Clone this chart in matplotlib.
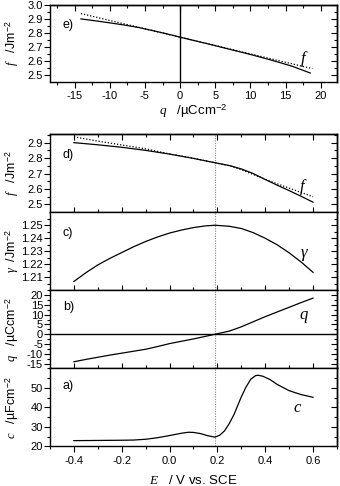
import numpy as np
import matplotlib
matplotlib.use('Agg')
import matplotlib.pyplot as plt
from matplotlib.ticker import MultipleLocator, FixedLocator

plt.rcParams['font.family'] = ['Liberation Sans', 'DejaVu Sans']
plt.rcParams['mathtext.fontset'] = 'custom'
plt.rcParams['mathtext.rm'] = 'Liberation Sans'
plt.rcParams['mathtext.it'] = 'Liberation Serif:italic'
plt.rcParams['mathtext.bf'] = 'Liberation Sans:bold'
plt.rcParams['axes.unicode_minus'] = False

# panel e: f vs q
q_e = [-14.1, -12, -10, -8, -6, -4, -2, 0, 2, 4, 6, 8, 10, 12, 14, 16, 18.5]
f_e = [2.900, 2.886, 2.872, 2.857, 2.840, 2.818, 2.795, 2.770, 2.746, 2.722,
       2.697, 2.672, 2.647, 2.620, 2.592, 2.562, 2.515]
q_tan = [-14.1, 18.8]
f_tan = [2.938, 2.546]

# panel d: f vs E
E_d = [-0.4, -0.3, -0.2, -0.1, 0.0, 0.1, 0.19, 0.25, 0.3, 0.35, 0.4, 0.45, 0.5, 0.55, 0.6]
f_d = [2.900, 2.886, 2.870, 2.850, 2.826, 2.798, 2.770, 2.752, 2.730, 2.700,
       2.662, 2.625, 2.590, 2.553, 2.515]
f_d_dot = [2.938, 2.910, 2.885, 2.860, 2.827, 2.799, 2.770, 2.751, 2.725, 2.694,
           2.663, 2.634, 2.606, 2.578, 2.550]

# panel c: gamma vs E
E_c = [-0.4, -0.35, -0.3, -0.25, -0.2, -0.15, -0.1, -0.05, 0.0, 0.05, 0.1, 0.15,
       0.19, 0.25, 0.3, 0.35, 0.4, 0.45, 0.5, 0.55, 0.6]
gam = [1.2068, 1.2135, 1.2195, 1.2245, 1.2290, 1.2335, 1.2375, 1.2410, 1.2440,
       1.2463, 1.2482, 1.2495, 1.2500, 1.2492, 1.2475, 1.2443, 1.2400, 1.2350,
       1.2288, 1.2218, 1.2138]

# panel b: q vs E
E_b = [-0.4, -0.35, -0.3, -0.25, -0.2, -0.15, -0.1, -0.05, 0.0, 0.05, 0.1, 0.15,
       0.19, 0.25, 0.3, 0.35, 0.4, 0.45, 0.5, 0.55, 0.6]
q_b = [-14.1, -12.9, -11.8, -10.7, -9.7, -8.7, -7.7, -6.3, -4.8, -3.6, -2.4, -1.1,
       0.0, 1.6, 3.8, 6.4, 9.0, 11.4, 13.8, 16.2, 18.5]

# panel a: c vs E
E_a = [-0.4, -0.3, -0.2, -0.15, -0.1, -0.05, 0.0, 0.05, 0.08, 0.1, 0.13, 0.16,
       0.19, 0.21, 0.23, 0.25, 0.27, 0.28, 0.3, 0.32, 0.34, 0.36, 0.37, 0.39,
       0.42, 0.45, 0.5, 0.55, 0.6]
c_a = [23.0, 23.1, 23.2, 23.3, 23.7, 24.5, 25.6, 26.8, 27.3, 27.2, 26.6, 25.5,
       24.8, 25.8, 28.0, 31.8, 36.5, 39.5, 45.4, 50.5, 54.5, 56.3, 56.5, 56.0,
       54.3, 51.8, 48.6, 46.6, 45.2]

E_pzc = 0.19

fig = plt.figure(figsize=(3.4, 4.86), dpi=100)
L, R = 0.147, 0.991
ax_e = fig.add_axes([L, 0.831, R - L, 0.159])
h = (0.724 - 0.0813) / 4
ax_d = fig.add_axes([L, 0.0813 + 3 * h, R - L, h])
ax_c = fig.add_axes([L, 0.0813 + 2 * h, R - L, h])
ax_b = fig.add_axes([L, 0.0813 + h, R - L, h])
ax_a = fig.add_axes([L, 0.0813, R - L, h])

lw = 0.9
tfs = 8
lfs = 9
pfs = 9
ylab_x = -0.1

def style(ax, bottom_dir='out', top=True, bottom_labels=True):
    for s in ax.spines.values():
        s.set_linewidth(1.0)
    ax.tick_params(axis='y', which='major', direction='out', length=4, width=0.8,
                   labelsize=tfs, pad=1.0)
    ax.tick_params(axis='y', which='minor', direction='out', length=2, width=0.8)
    ax.tick_params(axis='x', which='major', direction=bottom_dir, length=4 if bottom_dir == 'out' else 7,
                   width=0.8, labelsize=tfs, top=False, labelbottom=bottom_labels, pad=2.5)
    ax.tick_params(axis='x', which='minor', direction=bottom_dir, length=2 if bottom_dir == 'out' else 4,
                   width=0.8, top=False)
    # right ticks point inward
    ry = ax.secondary_yaxis('right')
    ry.set_yticks(ax.get_yticks(), labels=[])
    ax.tick_params(axis='y', which='both', right=False)
    ry.tick_params(axis='y', which='major', direction='in', length=4, width=0.8)
    ry.spines['right'].set_linewidth(1.0)
    ry.yaxis.set_minor_locator(FixedLocator(ax.yaxis.get_minorticklocs()))
    ry.tick_params(axis='y', which='minor', direction='in', length=2, width=0.8)
    if top:
        tx = ax.secondary_xaxis('top')
        tx.set_xticks(ax.get_xticks(), labels=[])
        tx.xaxis.set_minor_locator(FixedLocator(ax.xaxis.get_minorticklocs()))
        tx.tick_params(axis='x', which='major', direction='in', length=4, width=0.8)
        tx.tick_params(axis='x', which='minor', direction='in', length=2, width=0.8)
        tx.spines['top'].set_linewidth(1.0)

# ---- panel e
ax_e.plot(q_e, f_e, color='black', lw=lw)
ax_e.plot(q_tan, f_tan, color='black', lw=0.9, ls=(0, (1, 1.5)))
ax_e.axvline(0, color='black', lw=1.0)
ax_e.set_xlim(-18.5, 22.3)
ax_e.set_ylim(2.45, 3.0)
ax_e.xaxis.set_major_locator(MultipleLocator(5))
ax_e.xaxis.set_minor_locator(MultipleLocator(2.5))
ax_e.yaxis.set_major_locator(FixedLocator([2.5, 2.6, 2.7, 2.8, 2.9, 3.0]))
ax_e.yaxis.set_minor_locator(FixedLocator([2.55, 2.65, 2.75, 2.85, 2.95]))
ax_e.set_yticklabels(['2.5', '2.6', '2.7', '2.8', '2.9', '3.0'])
ax_e.set_xlabel(r'$q$   /µCcm$^{-2}$', fontsize=9.5, labelpad=1)
ax_e.set_ylabel(r'$f$   /Jm$^{-2}$', fontsize=lfs)
ax_e.yaxis.set_label_coords(ylab_x, 0.5)
ax_e.text(0.045, 0.74, 'e)', transform=ax_e.transAxes, fontsize=pfs, va='center')
ax_e.text(17.0, 2.585, r'$f$', fontsize=12)
style(ax_e)

# ---- panels vs E
for ax in (ax_d, ax_c, ax_b, ax_a):
    ax.set_xlim(-0.5, 0.7)
    ax.xaxis.set_major_locator(MultipleLocator(0.2))
    ax.xaxis.set_minor_locator(MultipleLocator(0.1))
    ax.axvline(E_pzc, color='#888888', lw=0.8, ls=(0, (1, 1.2)))

ax_d.plot(E_d, f_d, color='black', lw=lw)
ax_d.plot(E_d, f_d_dot, color='black', lw=0.9, ls=(0, (1, 1.5)))
ax_d.set_ylim(2.45, 2.955)
ax_d.yaxis.set_major_locator(FixedLocator([2.5, 2.6, 2.7, 2.8, 2.9]))
ax_d.yaxis.set_minor_locator(FixedLocator([2.55, 2.65, 2.75, 2.85, 2.95]))
ax_d.set_yticklabels(['2.5', '2.6', '2.7', '2.8', '2.9'])
ax_d.set_ylabel(r'$f$   /Jm$^{-2}$', fontsize=lfs)
ax_d.text(0.045, 0.73, 'd)', transform=ax_d.transAxes, fontsize=pfs, va='center')
ax_d.text(0.54, 2.585, r'$f$', fontsize=12)

ax_c.plot(E_c, gam, color='black', lw=lw)
ax_c.set_ylim(1.2, 1.26)
ax_c.yaxis.set_major_locator(FixedLocator([1.21, 1.22, 1.23, 1.24, 1.25]))
ax_c.yaxis.set_minor_locator(FixedLocator([1.205, 1.215, 1.225, 1.235, 1.245, 1.255]))
ax_c.set_yticklabels(['1.21', '1.22', '1.23', '1.24', '1.25'])
ax_c.set_ylabel(r'$\gamma$  /Jm$^{-2}$', fontsize=lfs)
ax_c.text(0.045, 0.73, 'c)', transform=ax_c.transAxes, fontsize=pfs, va='center')
ax_c.text(0.545, 1.2255, r'$\gamma$', fontsize=12)

ax_b.plot(E_b, q_b, color='black', lw=lw)
ax_b.axhline(0, color='black', lw=1.0)
ax_b.set_ylim(-17.5, 22.5)
ax_b.yaxis.set_major_locator(MultipleLocator(5))
ax_b.yaxis.set_minor_locator(FixedLocator(np.arange(-17.5, 22.6, 5)))
ax_b.set_ylabel(r'$q$   /µCcm$^{-2}$', fontsize=lfs)
ax_b.text(0.045, 0.78, 'b)', transform=ax_b.transAxes, fontsize=pfs, va='center')
ax_b.text(0.54, 8.0, r'$q$', fontsize=12)

ax_a.plot(E_a, c_a, color='black', lw=lw)
ax_a.set_ylim(20, 60)
ax_a.yaxis.set_major_locator(FixedLocator([20, 30, 40, 50]))
ax_a.yaxis.set_minor_locator(FixedLocator([25, 35, 45, 55]))
ax_a.set_yticklabels(['20', '30', '40', '50'])
ax_a.set_ylabel(r'$c$   /µFcm$^{-2}$', fontsize=lfs)
ax_a.set_xlabel(r'$E$   / V vs. SCE', fontsize=9.5, labelpad=6)
ax_a.text(0.045, 0.78, 'a)', transform=ax_a.transAxes, fontsize=pfs, va='center')
ax_a.text(0.515, 37.5, r'$c$', fontsize=12)

for ax in (ax_d, ax_c, ax_b, ax_a):
    ax.yaxis.set_label_coords(ylab_x, 0.5)

style(ax_d, bottom_dir='inout', top=True, bottom_labels=False)
style(ax_c, bottom_dir='inout', top=False, bottom_labels=False)
style(ax_b, bottom_dir='inout', top=False, bottom_labels=False)
style(ax_a, bottom_dir='out', top=False, bottom_labels=True)
ax_a.set_xticks([-0.4, -0.2, 0.0, 0.2, 0.4, 0.6], labels=['-0.4', '-0.2', '0.0', '0.2', '0.4', '0.6'])

fig.savefig('out.png', dpi=100)
